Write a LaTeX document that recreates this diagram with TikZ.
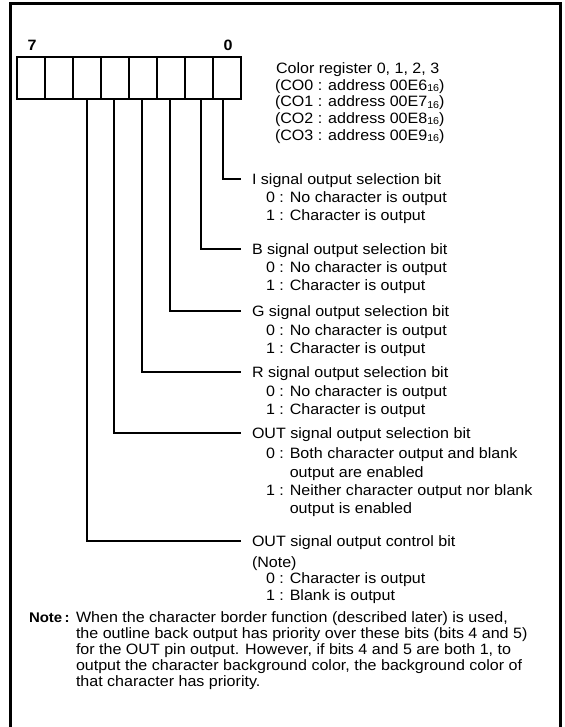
\documentclass[tikz,border=0pt]{standalone}
\usepackage{fontspec}
\setmainfont[FakeStretch=1.07]{Liberation Sans}
\newcommand{\hexsub}[1]{\raisebox{-1.2pt}{\fontsize{10}{10}\selectfont #1}}
\begin{document}
\begin{tikzpicture}[x=1pt,y=-1pt,
  txt/.style={anchor=base west, inner sep=0pt, outer sep=0pt, font=\fontsize{15}{18}\selectfont},
  hdr/.style={anchor=west, inner sep=0pt, outer sep=0pt, text height=11pt, text depth=0pt, font=\fontsize{15}{18}\selectfont},
  cell/.style={draw, line width=2pt, minimum width=28pt, minimum height=42pt, inner sep=0pt, outer sep=0pt, anchor=north west},
  bitlbl/.style={inner sep=0pt, font=\fontsize{15}{18}\selectfont\bfseries},
  conn/.style={line width=1.2pt}]
\useasboundingbox (0,0) rectangle (564,727);
\begin{scope}
  \clip (0,0) rectangle (564,727);
  \draw[line width=3pt] (10,740) -- (10,4) -- (560,4) -- (560,740);
\end{scope}
% register cells
\node[cell] (b7) at (17,57) {};
\node[cell] (b6) at (45,57) {};
\node[cell] (b5) at (73,57) {};
\node[cell] (b4) at (101,57) {};
\node[cell] (b3) at (129,57) {};
\node[cell] (b2) at (157,57) {};
\node[cell] (b1) at (185,57) {};
\node[cell] (b0) at (213,57) {};
\node[bitlbl] (l7) at ([xshift=1pt,yshift=12pt]b7.north) {7};
\node[bitlbl] (l0) at ([xshift=1pt,yshift=12pt]b0.north) {0};
% register description
\node[txt] (c0) at (276,73.5) {Color register 0, 1, 2, 3};
\node[txt] (c1) at (275,90.2) {(CO0 : address 00E6\hexsub{16})};
\node[txt] (c2) at (275,106.9) {(CO1 : address 00E7\hexsub{16})};
\node[txt] (c3) at (275,123.6) {(CO2 : address 00E8\hexsub{16})};
\node[txt] (c4) at (275,140.3) {(CO3 : address 00E9\hexsub{16})};
% I
\node[hdr] (hI) at (252,179) {I signal output selection bit};
\node[txt] (i0) at (266,203) {0 : No character is output};
\node[txt] (i1) at (266,221) {1 : Character is output};
% B
\node[hdr] (hB) at (252,249) {B signal output selection bit};
\node[txt] (bb0) at (266,272) {0 : No character is output};
\node[txt] (bb1) at (266,290) {1 : Character is output};
% G
\node[hdr] (hG) at (252,311) {G signal output selection bit};
\node[txt] (g0) at (266,335) {0 : No character is output};
\node[txt] (g1) at (266,353) {1 : Character is output};
% R
\node[hdr] (hR) at (252,372) {R signal output selection bit};
\node[txt] (r0) at (266,396) {0 : No character is output};
\node[txt] (r1) at (266,414) {1 : Character is output};
% OUT selection
\node[hdr] (hS) at (252,433) {OUT signal output selection bit};
\node[txt] (s0) at (266,458) {0 : Both character output and blank};
\node[txt] (s0b) at (266,477) {\phantom{0 : }output are enabled};
\node[txt] (s1) at (266,495) {1 : Neither character output nor blank};
\node[txt] (s1b) at (266,513) {\phantom{1 : }output is enabled};
% OUT control
\node[hdr] (hC) at (252,541) {OUT signal output control bit};
\node[txt] (cn) at (252,567) {(Note)};
\node[txt] (k0) at (266,583.5) {0 : Character is output};
\node[txt] (k1) at (266,600.5) {1 : Blank is output};
% connectors
\draw[conn] ([xshift=-4pt]b0.south) |- ([xshift=-11pt]hI.west);
\draw[conn] ([xshift=2pt]b1.south) |- ([xshift=-11pt]hB.west);
\draw[conn] ([xshift=-1pt]b2.south) |- ([xshift=-11pt]hG.west);
\draw[conn] ([xshift=-1pt]b3.south) |- ([xshift=-11pt]hR.west);
\draw[conn] ([xshift=-1pt]b4.south) |- ([xshift=-11pt]hS.west);
\draw[conn] (b5.south) |- ([xshift=-11pt]hC.west);
% note
\node[txt, font=\fontsize{14}{18}\selectfont\bfseries] (note) at (29,622) {Note\,:};
\node[txt] (n1) at (76,622) {When the character border function (described later) is used,};
\node[txt] (n2) at (76,638) {the outline back output has priority over these bits (bits 4 and 5)};
\node[txt] (n3) at (76,654) {for the OUT pin output. However, if bits 4 and 5 are both 1, to};
\node[txt] (n4) at (76,670) {output the character background color, the background color of};
\node[txt] (n5) at (76,686) {that character has priority.};
\end{tikzpicture}
\end{document}
